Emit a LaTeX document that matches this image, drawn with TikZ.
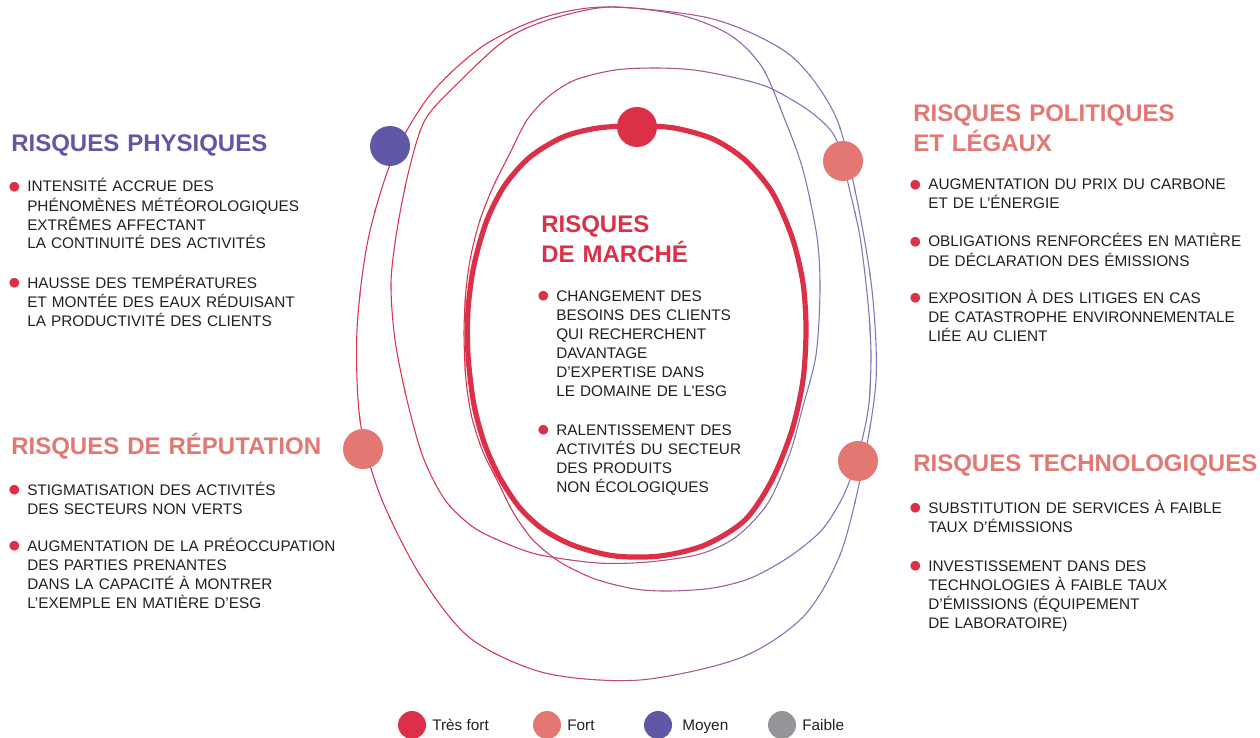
\documentclass[tikz,border=0pt]{standalone}
\usepackage{fontspec}
\setmainfont{Liberation Sans}
\newfontfamily\symbfont{DejaVu Sans}
\usepackage{tikz}
\definecolor{rtresfort}{HTML}{DC3049}
\definecolor{rfort}{HTML}{E37772}
\definecolor{rmoyen}{HTML}{5F58A6}
\definecolor{rfaible}{HTML}{939598}
\definecolor{lrouge}{HTML}{D9324E}
\definecolor{lviolet}{HTML}{8075B8}
\definecolor{ink}{HTML}{231F20}
\newcommand\puce{\llap{\raisebox{0.9pt}{\symbfont\fontsize{9.5}{9.5}\selectfont\textcolor{rtresfort}{●}}\hspace{5.5pt}}}
% the three thin loops, in pixel units
\newcommand\boucleext{plot[smooth cycle] coordinates {(609,7) (713,19) (790,55) (835,115) (856,195) (872,290) (876,380) (862,470) (840,555) (803,617) (740,658) (640,680) (545,673) (470,638) (420,575) (380,495) (360,420) (357,330) (368,240) (392,160) (430,95) (483,46) (545,17)}}
\newcommand\bouclemid{plot[smooth cycle] coordinates {(609,7) (680,15) (730,35) (762,67) (785,120) (803,170) (817,237) (820,290) (816,355) (802,410) (790,453) (768,503) (736,537) (700,554) (648,562) (598,563) (540,555) (505,543) (473,527) (445,500) (423,457) (407,400) (395,340) (391,283) (397,230) (409,170) (425,120) (456,85) (505,40) (548,20)}}
\newcommand\boucleint{plot[smooth cycle] coordinates {(655,68) (694,70) (736,78) (770,88) (808,110) (832,132) (843,158) (848,183) (860,237) (868,303) (871,353) (869,403) (862,440) (850,480) (838,506) (820,532) (789,557) (751,578) (713,588) (670,591) (635,589) (595,579) (560,562) (533,540) (513,512) (497,480) (483,452) (472,418) (466,380) (464,333) (466,290) (471,255) (480,220) (493,187) (510,153) (527,120) (548,97) (575,80) (615,70)}}
\newcommand\bouclemarche{plot[smooth cycle] coordinates {(637,126) (674,128) (713,139) (745,160) (772,192) (792,237) (803,283) (806,330) (803,380) (792,430) (772,480) (745,520) (705,545) (660,556) (615,556) (575,546) (544,530) (520,508) (500,478) (485,445) (474,405) (468,355) (468,310) (474,265) (487,220) (505,185) (530,157) (563,137) (598,128)}}

\begin{document}
\begin{tikzpicture}[x=0.75pt,y=-0.75pt,
  heading/.style={anchor=base west,inner sep=0pt,text width=10cm,align=left,
    font=\fontsize{18}{22.5}\selectfont\bfseries},
  entry/.style={anchor=base west,inner sep=0pt,text width=10cm,align=left,
    text=ink,font=\fontsize{11.5}{14.25}\selectfont},
  riskdot/.style={circle,inner sep=0pt,minimum size=30pt},
  keydot/.style={circle,inner sep=0pt,minimum size=21pt},
  keylabel/.style={anchor=base west,inner sep=0pt,text=ink,
    font=\fontsize{11.5}{14}\selectfont},
  strand/.style={line width=0.8pt}]
\useasboundingbox (0,0) rectangle (1260,738);
% thin loops, red on the left turning violet on the right
\foreach \i in {0,...,39}{
  \pgfmathtruncatemacro\pct{max(0,min(100,(337.5+15*\i-480)/3.3))}
  \begin{scope}
    \clip (330+15*\i-0.3,-10) rectangle (345.3+15*\i,750);
    \draw[strand,draw=lviolet!\pct!lrouge] \boucleext;
    \draw[strand,draw=lviolet!\pct!lrouge] \bouclemid;
    \draw[strand,draw=lviolet!\pct!lrouge] \boucleint;
  \end{scope}
}
\draw[rtresfort,line width=3.9pt] \bouclemarche;

\node[riskdot,fill=rtresfort] (marche) at (637,127) {};
\node[riskdot,fill=rmoyen] (physique) at (390,146) {};
\node[riskdot,fill=rfort] (politique) at (843,161) {};
\node[riskdot,fill=rfort] (reputation) at (363,449) {};
\node[riskdot,fill=rfort] (techno) at (858,461) {};

% left column
\node[heading,text=rmoyen] (physT) at (11,152) {RISQUES PHYSIQUES};
\node[entry] (phys1) at (27,192) {\puce INTENSITÉ ACCRUE DES\\PHÉNOMÈNES MÉTÉOROLOGIQUES\\EXTRÊMES AFFECTANT\\LA CONTINUITÉ DES ACTIVITÉS};
\node[entry] (phys2) at (27,288) {\puce HAUSSE DES TEMPÉRATURES\\ET MONTÉE DES EAUX RÉDUISANT\\LA PRODUCTIVITÉ DES CLIENTS};
\node[heading,text=rfort] (repT) at (11,454) {RISQUES DE RÉPUTATION};
\node[entry] (rep1) at (27,495) {\puce STIGMATISATION DES ACTIVITÉS\\DES SECTEURS NON VERTS};
\node[entry] (rep2) at (27,551) {\puce AUGMENTATION DE LA PRÉOCCUPATION\\DES PARTIES PRENANTES\\DANS LA CAPACITÉ À MONTRER\\L’EXEMPLE EN MATIÈRE D’ESG};

% centre
\node[heading,text=rtresfort] (marcheT) at (541,233) {RISQUES\\DE MARCHÉ};
\node[entry] (marche1) at (556,301) {\puce CHANGEMENT DES\\BESOINS DES CLIENTS\\QUI RECHERCHENT\\DAVANTAGE\\D’EXPERTISE DANS\\LE DOMAINE DE L\textquotesingle ESG};
\node[entry] (marche2) at (556,435) {\puce RALENTISSEMENT DES\\ACTIVITÉS DU SECTEUR\\DES PRODUITS\\NON ÉCOLOGIQUES};

% right column
\node[heading,text=rfort] (polT) at (913,122) {RISQUES POLITIQUES\\ET LÉGAUX};
\node[entry] (pol1) at (928,190) {\puce AUGMENTATION DU PRIX DU CARBONE\\ET DE L’ÉNERGIE};
\node[entry] (pol2) at (928,247) {\puce OBLIGATIONS RENFORCÉES EN MATIÈRE\\DE DÉCLARATION DES ÉMISSIONS};
\node[entry] (pol3) at (928,303) {\puce EXPOSITION À DES LITIGES EN CAS\\DE CATASTROPHE ENVIRONNEMENTALE\\LIÉE AU CLIENT};
\node[heading,text=rfort] (techT) at (913,471) {RISQUES TECHNOLOGIQUES};
\node[entry] (tech1) at (928,513) {\puce SUBSTITUTION DE SERVICES À FAIBLE\\TAUX D’ÉMISSIONS};
\node[entry] (tech2) at (928,571) {\puce INVESTISSEMENT DANS DES\\TECHNOLOGIES À FAIBLE TAUX\\D’ÉMISSIONS (ÉQUIPEMENT\\DE LABORATOIRE)};

% legend
\node[keydot,fill=rtresfort] (k1) at (412,725) {};
\node[keylabel] (k1t) at (432,730) {Très fort};
\node[keydot,fill=rfort] (k2) at (547,725) {};
\node[keylabel] (k2t) at (567,730) {Fort};
\node[keydot,fill=rmoyen] (k3) at (658,725) {};
\node[keylabel] (k3t) at (682,730) {Moyen};
\node[keydot,fill=rfaible] (k4) at (782,725) {};
\node[keylabel] (k4t) at (802,730) {Faible};
\end{tikzpicture}
\end{document}
